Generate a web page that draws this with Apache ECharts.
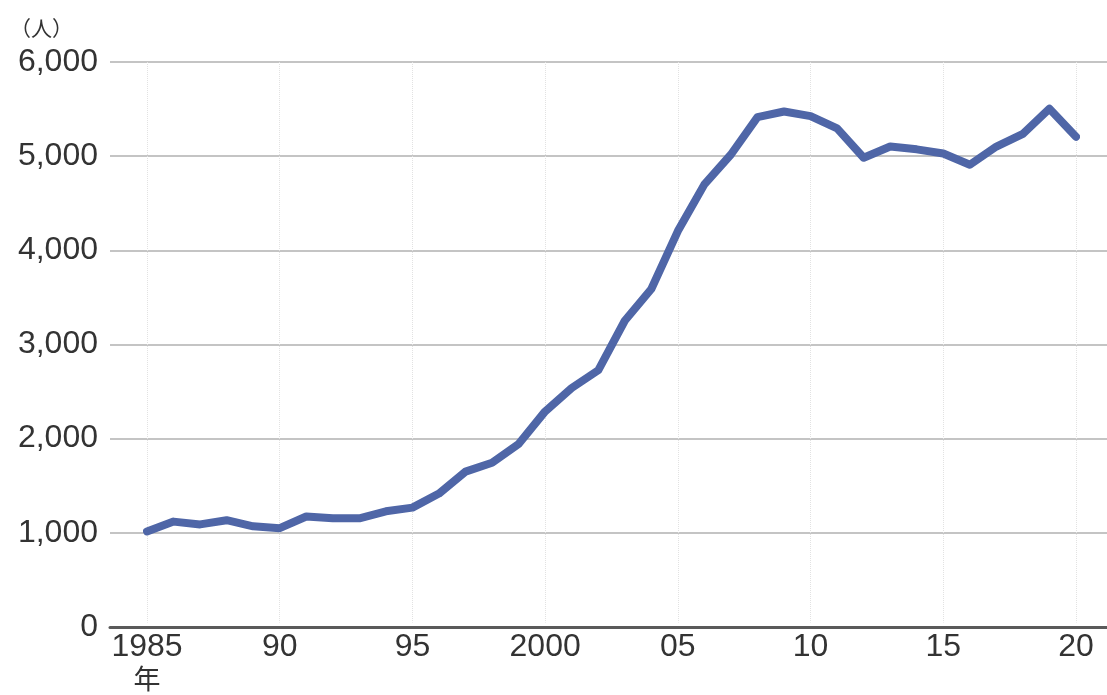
<!DOCTYPE html>
<html>
<head>
<meta charset="utf-8">
<script src="https://cdn.jsdelivr.net/npm/echarts@6/dist/echarts.min.js"></script>
<style>
  html, body { margin: 0; padding: 0; background: #fff; }
  #chart { width: 1107px; height: 695px; }
</style>
</head>
<body>
<div id="chart"></div>
<script>
// Annual counts (persons), 1985–2020
const years = [1985, 1986, 1987, 1988, 1989, 1990, 1991, 1992, 1993, 1994,
               1995, 1996, 1997, 1998, 1999, 2000, 2001, 2002, 2003, 2004,
               2005, 2006, 2007, 2008, 2009, 2010, 2011, 2012, 2013, 2014,
               2015, 2016, 2017, 2018, 2019, 2020];
const persons = [975, 1080, 1050, 1095, 1030, 1010, 1135, 1115, 1115, 1190,
                 1230, 1380, 1615, 1710, 1910, 2260, 2510, 2700, 3230, 3570,
                 4190, 4690, 5010, 5410, 5470, 5420, 5290, 4975, 5095, 5065,
                 5020, 4900, 5095, 5230, 5500, 5200];

// Tick labels on the year axis
const xTickYears = [1985, 1990, 1995, 2000, 2005, 2010, 2015, 2020];
const xTickText  = ['1985', '90', '95', '2000', '05', '10', '15', '20'];
const yearUnit = '年';
const yUnit = '（人）';

const FONT = "'Liberation Sans', 'Noto Sans CJK JP', sans-serif";
const TEXT = '#333333';

const chart = echarts.init(document.getElementById('chart'), null, { renderer: 'canvas' });

chart.setOption({
  animation: false,
  backgroundColor: '#ffffff',
  grid: [
    // wide grid: horizontal gridlines, y labels and the baseline
    { left: 110, right: 0, top: 62, bottom: 68 },
    // plotting grid: years 1985–2020
    { left: 147, right: 31, top: 62, bottom: 68 }
  ],
  xAxis: [
    {
      gridIndex: 0, type: 'value', min: 0, max: 1,
      axisLine: { show: true, lineStyle: { color: '#5a5a5a', width: 3 } },
      axisTick: { show: false }, axisLabel: { show: false }, splitLine: { show: false }
    },
    {
      gridIndex: 1, type: 'value', min: 1985, max: 2020, interval: 5,
      axisLine: { show: false }, axisTick: { show: false },
      axisLabel: {
        margin: 9,
        color: TEXT, fontFamily: FONT, fontSize: 32,
        formatter: v => {
          const i = xTickYears.indexOf(v);
          if (i < 0) return '';
          return i === 0 ? xTickText[i] + '\n{u|' + yearUnit + '}' : xTickText[i];
        },
        rich: { u: { fontSize: 27, lineHeight: 36, color: TEXT, fontFamily: FONT } }
      },
      splitLine: { show: true, lineStyle: { color: '#e2e2e2', width: 1, type: 'dotted' } }
    }
  ],
  yAxis: [
    {
      gridIndex: 0, type: 'value', min: 0, max: 6000, interval: 1000,
      axisLine: { show: false }, axisTick: { show: false },
      axisLabel: {
        margin: 12, color: TEXT, fontFamily: FONT, fontSize: 32,
        formatter: v => v.toLocaleString('en-US')
      },
      splitLine: { show: true, lineStyle: { color: '#c4c4c4', width: 2 } }
    },
    {
      gridIndex: 1, type: 'value', min: 0, max: 6000, interval: 1000,
      show: false, splitLine: { show: false }
    }
  ],
  graphic: [
    {
      type: 'text', left: 10, top: 18,
      style: { text: yUnit, fill: TEXT, font: "21px 'Noto Sans CJK JP', sans-serif" }
    }
  ],
  series: [
    {
      type: 'line',
      xAxisIndex: 1, yAxisIndex: 1,
      data: years.map((y, i) => [y, persons[i]]),
      showSymbol: false,
      lineStyle: { color: '#4f66a7', width: 8, join: 'round', cap: 'round' },
      z: 5
    }
  ]
});
</script>
</body>
</html>
